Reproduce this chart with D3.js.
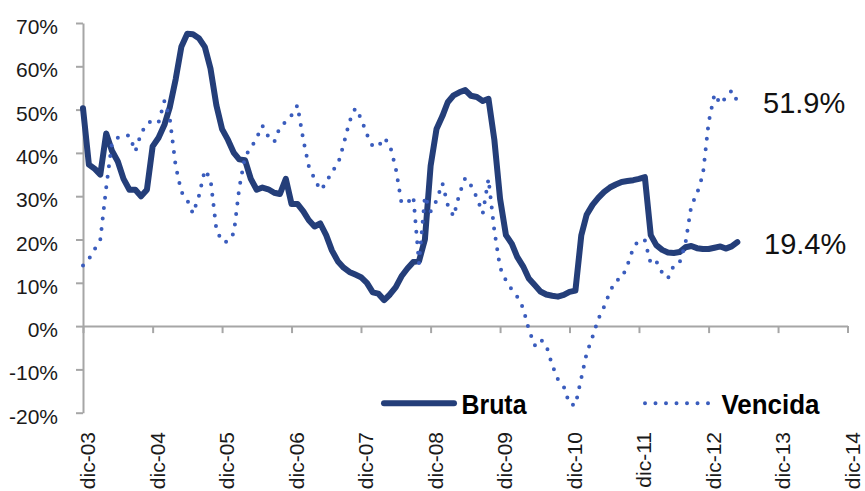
<!DOCTYPE html>
<html>
<head>
<meta charset="utf-8">
<script src="https://cdnjs.cloudflare.com/ajax/libs/d3/7.8.5/d3.min.js"></script>
<style>
  body { margin: 0; background: #fff; }
  svg { font-family: "Liberation Sans", Arial, sans-serif; }
  .axis path, .axis line { stroke: #a6a6a6; stroke-width: 2; }
  .axis text { font-size: 21px; fill: #1a1a1a; }
  .lbl { font-size: 21px; fill: #1a1a1a; }
  .ann { font-size: 29px; fill: #111; }
  .leg { font-size: 28px; font-weight: bold; fill: #000; }
</style>
</head>
<body>
<div id="chart"></div>
<script>
// morosidad: variacion anual, cartera bruta vs vencida (mensual, dic-03 a may-13)

var startMonth = new Date(2003, 11, 1);
var endMonth = new Date(2013, 5, 1);

var tickYears = [2003, 2004, 2005, 2006, 2007, 2008, 2009, 2010, 2011, 2012, 2013, 2014];
var yTicks = [-20, -10, 0, 10, 20, 30, 40, 50, 60, 70];
var seriesNames = ["Bruta", "Vencida"];
var lastLabels = ["19.4%", "51.9%"];

var bruta = [
  50.3, 37.3, 36.3, 35.0, 44.5, 40.5, 38.0, 34.0, 31.5, 31.5, 30.0, 31.5,
  41.5, 43.5, 46.5, 50.5, 57.0, 64.5, 67.5, 67.4, 66.5, 64.5, 59.5, 51.0,
  45.5, 43.0, 40.0, 38.5, 38.3, 34.0, 31.5, 32.0, 31.6, 30.8, 30.5, 34.0,
  28.2, 28.2, 26.5, 24.5, 23.0, 23.7, 21.0, 17.5, 15.0, 13.5, 12.5, 11.9,
  11.3, 10.0, 7.8, 7.5, 6.0, 7.3, 9.0, 11.5, 13.3, 14.8, 15.0, 20.0,
  37.0, 45.5, 48.5, 51.7, 53.3, 54.0, 54.5, 53.2, 52.9, 52.0, 52.5, 43.0,
  29.4, 21.0, 19.0, 16.0, 13.8, 11.0, 9.5, 8.0, 7.3, 7.0, 6.8, 7.2,
  7.9, 8.2, 21.0, 25.7, 28.0, 29.6, 31.0, 32.0, 32.7, 33.3, 33.5, 33.7,
  34.0, 34.4, 21.0, 18.7, 17.6, 17.0, 16.9, 17.1, 18.2, 18.5, 18.0, 17.8,
  17.8, 18.1, 18.4, 17.9, 18.4, 19.4
];

var vencida = [
  14.0, 15.5, 17.8, 20.0, 32.0, 42.3, 43.5, 44.0, 44.0, 40.3, 44.5, 46.8,
  47.5, 47.0, 52.0, 48.0, 37.0, 31.0, 29.1, 26.0, 30.0, 36.0, 34.0, 22.3,
  19.5, 19.5, 21.5, 31.8, 39.3, 41.0, 43.5, 46.3, 43.8, 42.5, 46.0, 47.2,
  48.7, 51.0, 43.0, 37.0, 34.0, 31.4, 33.0, 35.8, 37.2, 42.0, 47.2, 50.3,
  48.0, 44.3, 41.5, 41.5, 43.5, 41.8, 36.4, 28.4, 28.5, 30.0, 14.5, 30.0,
  26.5, 29.0, 33.0, 28.0, 25.3, 30.5, 34.2, 32.5, 29.7, 26.0, 34.0, 22.0,
  13.5, 10.5, 8.4, 6.8, 4.2, -0.8, -4.5, -3.0, -4.5, -9.0, -12.3, -14.0,
  -18.0, -18.3, -12.0, -6.3, -2.5, 1.6, 4.5, 7.9, 10.5, 11.0, 14.0, 18.0,
  19.9, 19.8, 14.4, 15.0, 12.3, 11.0, 14.0, 14.6, 19.0, 27.8, 30.6, 35.0,
  47.0, 53.6, 51.3, 52.8, 54.4, 51.9
];

var months = d3.timeMonths(startMonth, endMonth);
var monthNames = ["ene","feb","mar","abr","may","jun","jul","ago","sep","oct","nov","dic"];

var width = 865, height = 491;

var svg = d3.select("#chart").append("svg")
  .attr("width", width).attr("height", height);

var x = d3.scaleTime()
  .domain([new Date(2003, 11, 1), new Date(2014, 11, 1)])
  .range([83, 847.5]);

var y = d3.scaleLinear()
  .domain([-20, 70])
  .range([412.7, 23]);

var tickDates = tickYears.map(function(yr){ return new Date(yr, 11, 1); });

// y axis
svg.append("g")
  .attr("class", "axis")
  .attr("transform", "translate(83,0)")
  .call(d3.axisLeft(y)
    .tickValues(yTicks)
    .tickSize(7)
    .tickSizeOuter(0)
    .tickPadding(18)
    .tickFormat(function(d){ return d + "%"; }))
  .selectAll("text").attr("dy", "0.5em");

// x axis sits on the 0% line, labels go under the plot
svg.append("g")
  .attr("class", "axis")
  .attr("transform", "translate(0," + y(0) + ")")
  .call(d3.axisBottom(x)
    .tickValues(tickDates)
    .tickSize(7)
    .tickSizeOuter(0)
    .tickFormat(""));

svg.append("g").selectAll("text")
  .data(tickDates)
  .enter().append("text")
  .attr("class", "lbl")
  .attr("text-anchor", "end")
  .attr("transform", function(d){ return "translate(" + (x(d) + 12) + ",432) rotate(-90)"; })
  .text(function(d){ return monthNames[d.getMonth()] + "-" + d3.timeFormat("%y")(d); });

var line = d3.line()
  .x(function(d){ return x(d.date); })
  .y(function(d){ return y(d.value); });

var brutaData = months.map(function(m, i){ return {date: m, value: bruta[i]}; });
var vencidaData = months.map(function(m, i){ return {date: m, value: vencida[i]}; });

svg.append("path")
  .datum(brutaData)
  .attr("d", line)
  .attr("fill", "none")
  .attr("stroke", "#243e79")
  .attr("stroke-width", 6)
  .attr("stroke-linejoin", "round")
  .attr("stroke-linecap", "round");

svg.append("path")
  .datum(vencidaData)
  .attr("d", line)
  .attr("fill", "none")
  .attr("stroke", "#3a5cbd")
  .attr("stroke-width", 4)
  .attr("stroke-dasharray", "0 10.5")
  .attr("stroke-linecap", "round");

// end labels
svg.append("text").attr("class", "ann")
  .attr("x", 763).attr("y", 113)
  .text(lastLabels[1]);
svg.append("text").attr("class", "ann")
  .attr("x", 764).attr("y", 254)
  .text(lastLabels[0]);

// legend
var leg = svg.append("g");
leg.append("line")
  .attr("x1", 384).attr("x2", 454).attr("y1", 403.3).attr("y2", 403.3)
  .attr("stroke", "#243e79").attr("stroke-width", 6).attr("stroke-linecap", "round");
leg.append("text").attr("class", "leg")
  .attr("x", 461.5).attr("y", 413.5)
  .attr("textLength", 65).attr("lengthAdjust", "spacingAndGlyphs")
  .text(seriesNames[0]);
leg.append("line")
  .attr("x1", 645).attr("x2", 709).attr("y1", 403.3).attr("y2", 403.3)
  .attr("stroke", "#3a5cbd").attr("stroke-width", 4)
  .attr("stroke-dasharray", "0 10.5").attr("stroke-linecap", "round");
leg.append("text").attr("class", "leg")
  .attr("x", 721.5).attr("y", 413.5)
  .attr("textLength", 98).attr("lengthAdjust", "spacingAndGlyphs")
  .text(seriesNames[1]);
</script>
</body>
</html>
